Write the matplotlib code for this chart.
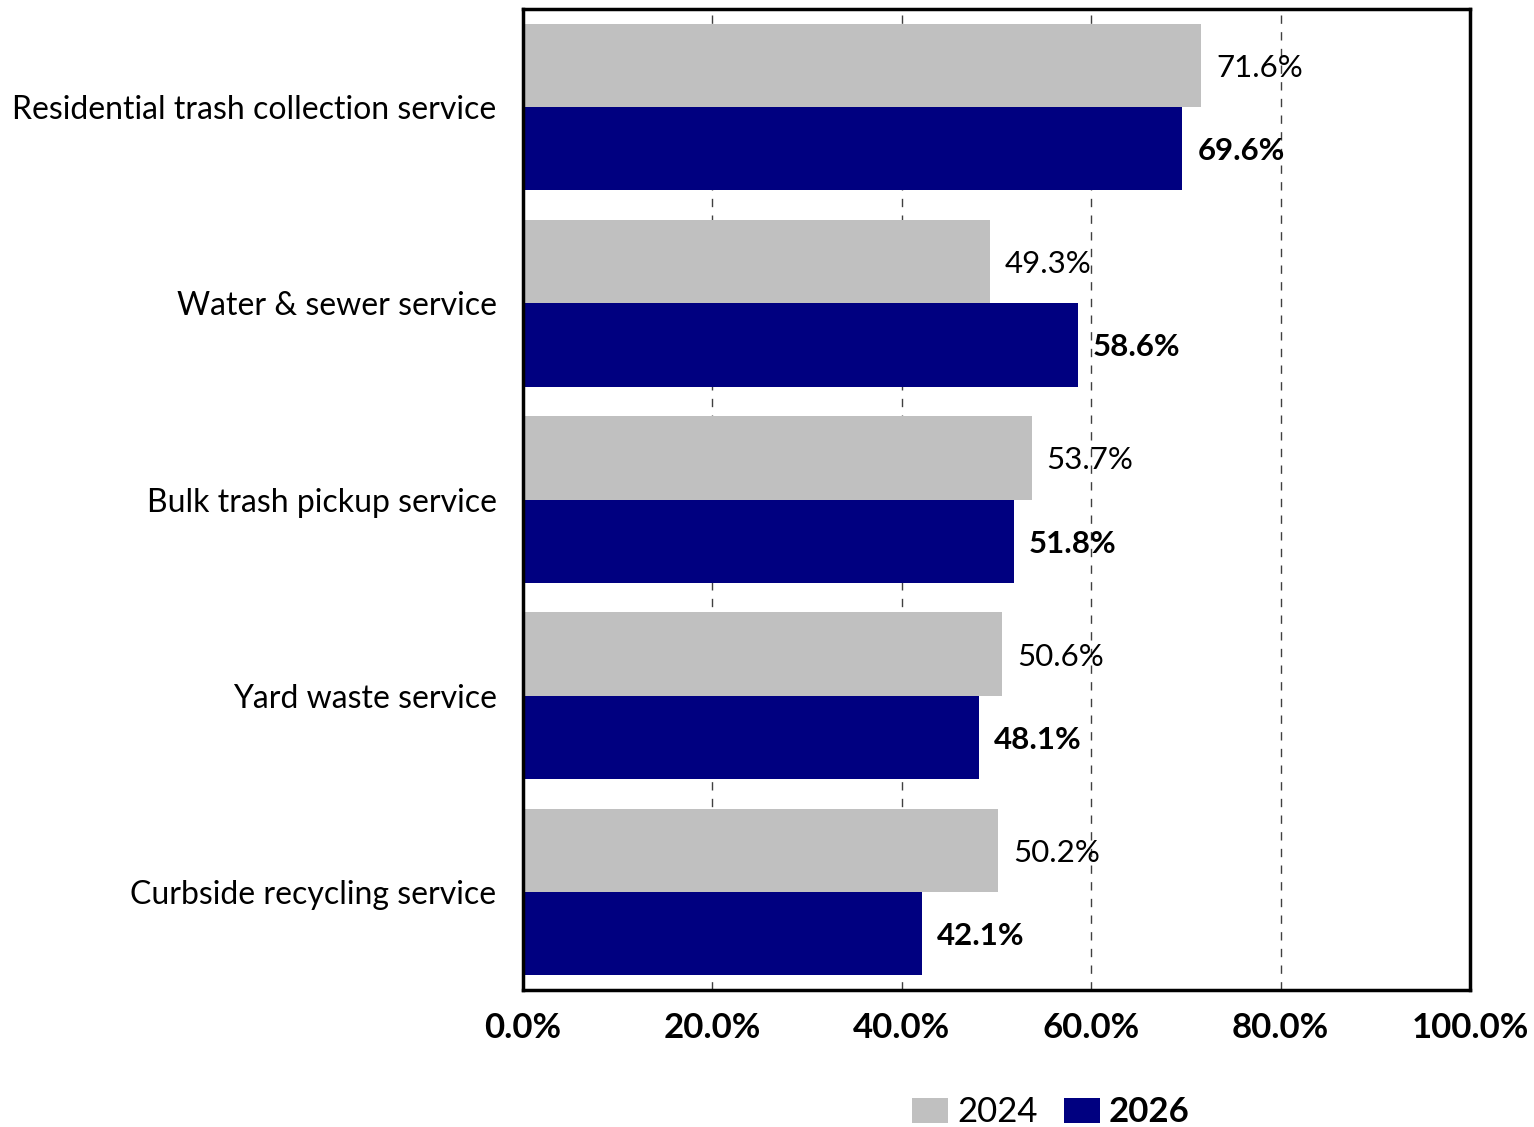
import numpy as np
import matplotlib.pyplot as plt
from matplotlib.patches import Patch

# data
categories = ["Residential trash collection service", "Water & sewer service",
              "Bulk trash pickup service", "Yard waste service",
              "Curbside recycling service"]
vals_2024 = [71.6, 49.3, 53.7, 50.6, 50.2]
vals_2026 = [69.6, 58.6, 51.8, 48.1, 42.1]
xticks = [0, 20, 40, 60, 80, 100]

plt.rcParams['font.family'] = ['Lato', 'DejaVu Sans']

gray = '#c0c0c0'
navy = '#000080'

fig = plt.figure(figsize=(15.34, 11.27), dpi=100)
ax = fig.add_axes([523/1534, 1 - 990/1127, (1470-523)/1534, (990-9)/1127])

y = np.arange(len(categories))
h = 0.425
ax.barh(y - h/2, vals_2024, height=h, color=gray, zorder=2)
ax.barh(y + h/2, vals_2026, height=h, color=navy, zorder=2)

for i in range(len(categories)):
    ax.text(vals_2024[i] + 1.6, y[i] - h/2, f"{vals_2024[i]:.1f}%", va='center_baseline',
            ha='left', fontsize=22.5, zorder=3)
    ax.text(vals_2026[i] + 1.6, y[i] + h/2, f"{vals_2026[i]:.1f}%", va='center_baseline',
            ha='left', fontsize=22.5, fontweight='bold', zorder=3)

ax.set_xlim(0, 100)
ax.set_ylim(len(categories) - 0.5, -0.5)
ax.set_yticks(y)
ax.set_yticklabels(categories, fontsize=23)
ax.set_xticks(xticks)
ax.set_xticklabels([f"{t:.1f}%" for t in xticks], fontsize=25, fontweight='bold')
ax.tick_params(axis='y', length=0, pad=19)
ax.tick_params(axis='x', length=0, pad=16)
ax.xaxis.grid(True, linestyle=(0, (6, 6)), color='#404040', linewidth=1, zorder=1)
ax.set_axisbelow(True)
for s in ax.spines.values():
    s.set_linewidth(2.5)
    s.set_color('black')

handles = [Patch(facecolor=gray, label='2024'), Patch(facecolor=navy, label='2026')]
leg = fig.legend(handles=handles, loc='lower center', bbox_to_anchor=(0.685, -0.029),
                 ncol=2, frameon=False, fontsize=25, handlelength=1.05, handleheight=0.75,
                 handletextpad=0.25, columnspacing=0.75)
leg.get_texts()[1].set_fontweight('bold')

fig.savefig('out.png', dpi=100)
